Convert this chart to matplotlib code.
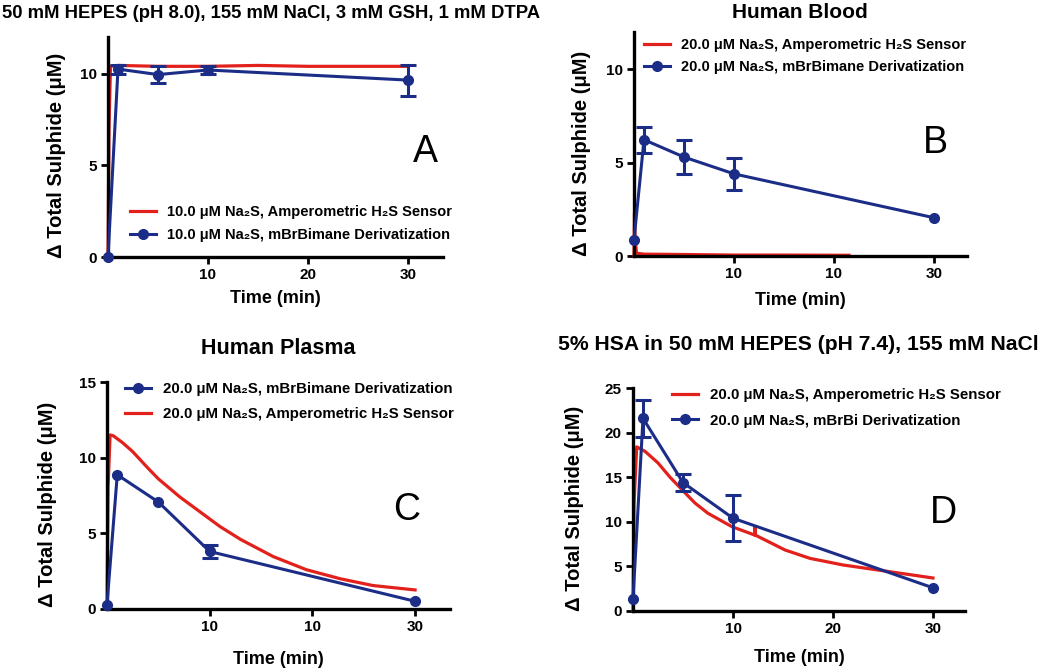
import matplotlib
matplotlib.use("Agg")
import matplotlib.pyplot as plt

plt.rcParams['font.family'] = ['Liberation Sans', 'DejaVu Sans']

BLUE = '#1b2d86'
RED = '#e3211c'

# panel A: 50 mM HEPES buffer
a_t = [0, 1, 5, 10, 30]
a_y = [0, 10.25, 9.95, 10.2, 9.65]
a_err = [0, 0.25, 0.48, 0.22, 0.85]
a_sens_t = [0, 0.1, 0.25, 1, 5, 10, 15, 20, 25, 30]
a_sens_y = [0, 7.0, 10.4, 10.45, 10.4, 10.4, 10.45, 10.4, 10.4, 10.4]

# panel B: human blood
b_t = [0, 1, 5, 10, 30]
b_y = [0.88, 6.23, 5.3, 4.4, 2.05]
b_err = [0, 0.7, 0.9, 0.87, 0]
b_sens_t = [0, 0.05, 0.1, 0.25, 1, 5, 10, 15, 21.5]
b_sens_y = [0, 2.3, 1.0, 0.15, 0.1, 0.08, 0.05, 0.05, 0.04]

# panel C: human plasma
c_t = [0, 1, 5, 10, 30]
c_y = [0.29, 8.87, 7.07, 3.8, 0.51]
c_err = [0, 0, 0, 0.4, 0]
c_sens_t = [0, 0.1, 0.3, 0.6, 1.5, 2.5, 4, 5, 7.1, 9, 10, 11, 13, 16.2, 19.4, 22.7, 25.9, 30]
c_sens_y = [0, 8.0, 11.5, 11.45, 11.0, 10.4, 9.3, 8.6, 7.4, 6.45, 5.95, 5.45, 4.6, 3.46, 2.6, 2.0,
            1.55, 1.26]

# panel D: 5% HSA
d_t = [0, 1, 5, 10, 30]
d_y = [1.3, 21.6, 14.4, 10.4, 2.6]
d_err = [0, 2.05, 0.95, 2.6, 0]
d_sens_t = [0, 0.1, 0.37, 1.2, 2.5, 3.7, 4.9, 6.2, 7.5, 8.7, 9.9, 12.2, 12.2, 12.25, 15.2, 17.7, 21,
            25.7, 30]
d_sens_y = [0, 12.0, 18.4, 17.9, 16.6, 15.0, 13.6, 12.1, 10.95, 10.2, 9.45, 8.5, 9.4, 8.5, 6.84, 5.9,
            5.16, 4.4, 3.7]

xticks = [10, 20, 30]
xticklabels_ad = ['10', '20', '30']
xticklabels_bc = ['10', '10', '30']

W, H = 1040, 671
fig = plt.figure(figsize=(10.4, 6.71), dpi=100)


def px_axes(l, r, top, bot):
    return fig.add_axes([l / W, 1 - bot / H, (r - l) / W, (bot - top) / H])


def style(ax, xmax, ymax, yticks, xlabels, ylab_x, xpad):
    ax.set_xlim(0, xmax)
    ax.set_ylim(0, ymax)
    for s in ['top', 'right']:
        ax.spines[s].set_visible(False)
    for s in ['left', 'bottom']:
        ax.spines[s].set_linewidth(2.4)
    ax.set_xticks(xticks)
    ax.set_xticklabels(xlabels)
    ax.set_yticks(yticks)
    ax.tick_params(width=2, length=5, labelsize=11, pad=3)
    for lab in ax.get_xticklabels() + ax.get_yticklabels():
        lab.set_fontweight('bold')
    ax.set_xlabel('Time (min)', fontsize=13, fontweight='bold', labelpad=xpad)
    ax.set_ylabel('Δ Total Sulphide (μM)', fontsize=14.5, fontweight='bold')
    ax.yaxis.set_label_coords(ylab_x, 0.46)


def draw(ax, t, y, err, st, sy, lab_b, lab_r):
    lr, = ax.plot(st, sy, color=RED, lw=2.3, label=lab_r, clip_on=False, zorder=2)
    lb, = ax.plot(t, y, color=BLUE, lw=2.2, marker='o', ms=7, label=lab_b, clip_on=False, zorder=3)
    # only the points that carry an SEM get bars
    et = [ti for ti, e in zip(t, err) if e > 0]
    ey = [yi for yi, e in zip(y, err) if e > 0]
    ee = [e for e in err if e > 0]
    ax.errorbar(et, ey, yerr=ee, fmt='none', ecolor=BLUE, elinewidth=2.2, capsize=5.5, capthick=2.2,
                clip_on=False, zorder=3)
    return lr, lb


def legend(ax, handles, x, y, gap, fs=10.5):
    ax.legend(handles=handles, loc='center left', bbox_to_anchor=(x / W, 1 - y / H),
              bbox_transform=fig.transFigure, frameon=False, borderpad=0,
              borderaxespad=0, handlelength=1.75, handletextpad=0.8, labelspacing=gap,
              numpoints=1, prop={'weight': 'bold', 'size': fs})


# A
axA = px_axes(108, 443, 37, 257)
r, b = draw(axA, a_t, a_y, a_err, a_sens_t, a_sens_y,
            '10.0 μM Na₂S, mBrBimane Derivatization', '10.0 μM Na₂S, Amperometric H₂S Sensor')
style(axA, 33.5, 12, [0, 5, 10], xticklabels_ad, -0.125, 6)
legend(axA, [r, b], 130, 223.5, 0.6)
fig.text(425 / W, 1 - 152 / H, 'A', fontsize=27, ha='center', va='center')
fig.text(2 / W, 1 - 13 / H, '50 mM HEPES (pH 8.0), 155 mM NaCl, 3 mM GSH, 1 mM DTPA',
         fontsize=13.3, fontweight='bold', ha='left', va='center')

# B
axB = px_axes(634, 967, 32, 256)
r, b = draw(axB, b_t, b_y, b_err, b_sens_t, b_sens_y,
            '20.0 μM Na₂S, mBrBimane Derivatization', '20.0 μM Na₂S, Amperometric H₂S Sensor')
style(axB, 33.3, 12, [0, 5, 10], xticklabels_bc, -0.129, 7.5)
legend(axB, [r, b], 644, 56, 0.6)
fig.text(935 / W, 1 - 143 / H, 'B', fontsize=27, ha='center', va='center')
fig.text(800 / W, 1 - 13 / H, 'Human Blood', fontsize=15, fontweight='bold', ha='center', va='center')

# C
axC = px_axes(107, 450, 382, 609)
r, b = draw(axC, c_t, c_y, c_err, c_sens_t, c_sens_y,
            '20.0 μM Na₂S, mBrBimane Derivatization', '20.0 μM Na₂S, Amperometric H₂S Sensor')
style(axC, 33.4, 15, [0, 5, 10, 15], xticklabels_bc, -0.146, 12.5)
legend(axC, [b, r], 125, 401.5, 0.7, fs=10.8)
fig.text(407 / W, 1 - 510 / H, 'C', fontsize=27, ha='center', va='center')
fig.text(278 / W, 1 - 348 / H, 'Human Plasma', fontsize=15.5, fontweight='bold', ha='center', va='center')

# D
axD = px_axes(633, 965, 388, 611)
r, b = draw(axD, d_t, d_y, d_err, d_sens_t, d_sens_y,
            '20.0 μM Na₂S, mBrBi Derivatization', '20.0 μM Na₂S, Amperometric H₂S Sensor')
style(axD, 33.2, 25, [0, 5, 10, 15, 20, 25], xticklabels_ad, -0.148, 9)
legend(axD, [r, b], 672, 408, 0.75, fs=10.8)
fig.text(943 / W, 1 - 513 / H, 'D', fontsize=27, ha='center', va='center')
fig.text(798 / W, 1 - 345 / H, '5% HSA in 50 mM HEPES (pH 7.4), 155 mM NaCl', fontsize=15.2,
         fontweight='bold', ha='center', va='center')

fig.savefig('out.png', dpi=100)
